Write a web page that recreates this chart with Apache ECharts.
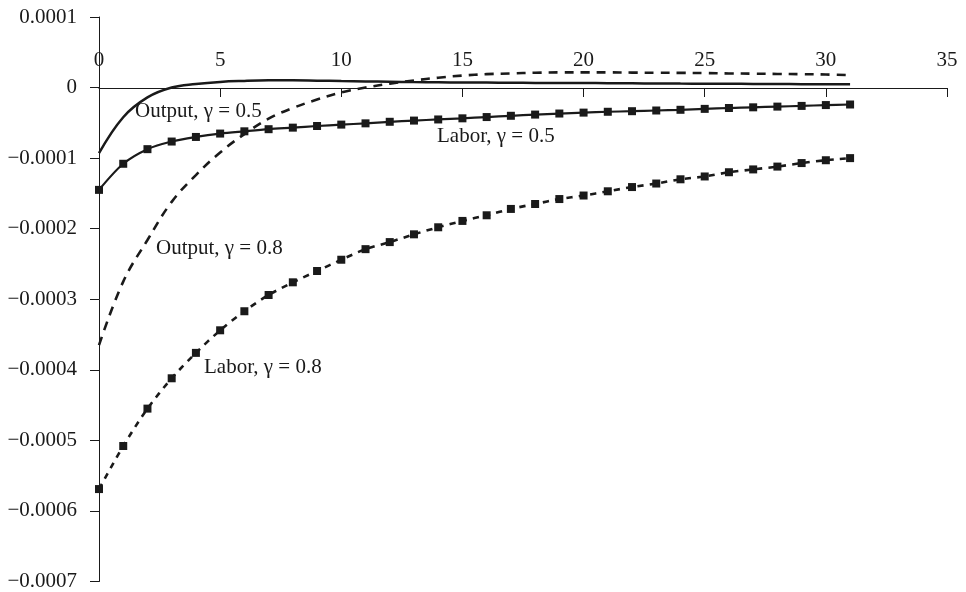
<!DOCTYPE html>
<html>
<head>
<meta charset="utf-8">
<script src="https://cdn.jsdelivr.net/npm/echarts@6/dist/echarts.min.js"></script>
<style>
html,body{margin:0;padding:0;background:#fff;}
#chart{width:966px;height:592px;}
</style>
</head>
<body>
<div id="chart"></div>
<script>
// Periods (x values)
const periods = [0,1,2,3,4,5,6,7,8,9,10,11,12,13,14,15,16,17,18,19,20,21,22,23,24,25,26,27,28,29,30,31];

// Output, gamma = 0.5
const outputG05 = [-0.93e-4,-0.42e-4,-0.14e-4,0.0e-4,0.05e-4,0.08e-4,0.094e-4,0.102e-4,0.103e-4,0.098e-4,0.092e-4,0.087e-4,0.082e-4,0.078e-4,0.075e-4,0.072e-4,0.070e-4,0.068e-4,0.066e-4,0.065e-4,0.064e-4,0.062e-4,0.060e-4,0.058e-4,0.056e-4,0.055e-4,0.053e-4,0.052e-4,0.050e-4,0.048e-4,0.047e-4,0.046e-4];

// Labor, gamma = 0.5
const laborG05 = [-1.45e-4,-1.08e-4,-0.873e-4,-0.765e-4,-0.70e-4,-0.652e-4,-0.62e-4,-0.59e-4,-0.568e-4,-0.545e-4,-0.525e-4,-0.507e-4,-0.485e-4,-0.468e-4,-0.452e-4,-0.436e-4,-0.418e-4,-0.400e-4,-0.383e-4,-0.368e-4,-0.355e-4,-0.343e-4,-0.335e-4,-0.325e-4,-0.315e-4,-0.302e-4,-0.29e-4,-0.28e-4,-0.27e-4,-0.26e-4,-0.248e-4,-0.24e-4];

// Output, gamma = 0.8
const outputG08 = [-3.65e-4,-2.75e-4,-2.16e-4,-1.62e-4,-1.24e-4,-0.92e-4,-0.66e-4,-0.44e-4,-0.29e-4,-0.17e-4,-0.07e-4,0.0e-4,0.055e-4,0.10e-4,0.14e-4,0.17e-4,0.19e-4,0.20e-4,0.21e-4,0.215e-4,0.215e-4,0.215e-4,0.212e-4,0.21e-4,0.208e-4,0.205e-4,0.20e-4,0.197e-4,0.193e-4,0.19e-4,0.185e-4,0.175e-4];

// Labor, gamma = 0.8
const laborG08 = [-5.69e-4,-5.08e-4,-4.55e-4,-4.12e-4,-3.76e-4,-3.44e-4,-3.17e-4,-2.94e-4,-2.76e-4,-2.60e-4,-2.44e-4,-2.29e-4,-2.19e-4,-2.08e-4,-1.98e-4,-1.89e-4,-1.81e-4,-1.72e-4,-1.65e-4,-1.58e-4,-1.53e-4,-1.47e-4,-1.41e-4,-1.36e-4,-1.30e-4,-1.26e-4,-1.20e-4,-1.16e-4,-1.12e-4,-1.07e-4,-1.03e-4,-1.00e-4];

// Axis settings
const xTicks = [0,5,10,15,20,25,30,35];
const yTickLabels = ['0.0001','0','\u22120.0001','\u22120.0002','\u22120.0003','\u22120.0004','\u22120.0005','\u22120.0006','\u22120.0007'];

// Curve annotations
const curveLabels = ['Output, \u03b3 = 0.5','Labor, \u03b3 = 0.5','Output, \u03b3 = 0.8','Labor, \u03b3 = 0.8'];

const FONT = '"Liberation Serif", "Times New Roman", serif';
const INK = '#1a1a1a';
const FS = 21;

function pairs(ys){ return periods.map((x,i)=>[x, ys[i]]); }

function yFmt(v){
  const k = Math.round(v * 1e4);
  const idx = 1 - k;
  return yTickLabels[idx] !== undefined ? yTickLabels[idx] : '';
}

const chart = echarts.init(document.getElementById('chart'), null, {renderer:'canvas'});
chart.setOption({
  animation:false,
  backgroundColor:'#ffffff',
  grid:{left:99, right:19, top:17, bottom:7, containLabel:false},
  xAxis:{
    type:'value', min:xTicks[0], max:xTicks[xTicks.length-1], interval:5,
    position:'top', offset:-71,
    axisLine:{show:true, onZero:false, lineStyle:{color:INK, width:1}},
    axisTick:{show:true, inside:true, length:9, lineStyle:{color:INK, width:1}},
    axisLabel:{show:true, inside:false, margin:17, color:INK, fontFamily:FONT, fontSize:FS},
    splitLine:{show:false}
  },
  yAxis:{
    type:'value', min:-7e-4, max:1e-4, interval:1e-4,
    axisLine:{show:true, lineStyle:{color:INK, width:1}},
    axisTick:{show:true, length:9, lineStyle:{color:INK, width:1}},
    axisLabel:{show:true, margin:22, color:INK, fontFamily:FONT, fontSize:FS, formatter:yFmt},
    splitLine:{show:false}
  },
  series:[
    {name:curveLabels[0], type:'line', data:pairs(outputG05), smooth:0.4, showSymbol:false, symbol:'none',
      lineStyle:{color:INK, width:2.5, type:'solid'}},
    {name:curveLabels[1], type:'line', data:pairs(laborG05), smooth:0.3, symbol:'rect', symbolSize:8,
      itemStyle:{color:INK}, lineStyle:{color:INK, width:2.2, type:'solid'}},
    {name:curveLabels[2], type:'line', data:pairs(outputG08), smooth:0.4, showSymbol:false, symbol:'none',
      lineStyle:{color:INK, width:2.6, type:[9,7]}},
    {name:curveLabels[3], type:'line', data:pairs(laborG08), smooth:0.3, symbol:'rect', symbolSize:8,
      itemStyle:{color:INK}, lineStyle:{color:INK, width:2.6, type:[6,6]}}
  ],
  graphic:[
    {type:'text', left:135, top:101, z:100, style:{text:curveLabels[0], font:FS+'px '+FONT, fill:INK}},
    {type:'text', left:437, top:126, z:100, style:{text:curveLabels[1], font:FS+'px '+FONT, fill:INK}},
    {type:'text', left:156, top:238, z:100, style:{text:curveLabels[2], font:FS+'px '+FONT, fill:INK}},
    {type:'text', left:204, top:357, z:100, style:{text:curveLabels[3], font:FS+'px '+FONT, fill:INK}}
  ]
});
</script>
</body>
</html>
